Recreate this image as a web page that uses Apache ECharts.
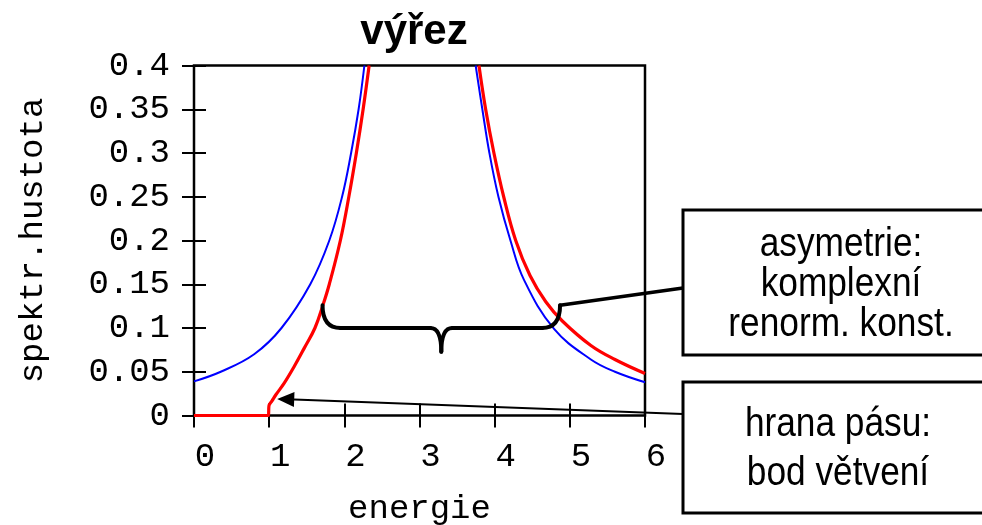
<!DOCTYPE html>
<html><head><meta charset="utf-8">
<script src="https://cdn.jsdelivr.net/npm/echarts@6/dist/echarts.min.js"></script>
<style>html,body{margin:0;padding:0;background:#fff}#c{width:982px;height:525px}</style>
</head><body><div id="c"></div>
<script>
// ---- data ----
const titleText = 'výřez';
const xName = 'energie';
const yName = 'spektr.hustota';
const xMin = 0, xMax = 6, xStep = 1;
const yMin = 0, yMax = 0.4, yStep = 0.05;

// blue curve (x, y); '-' marks the part above the visible window
const blueX = [0, 0.356, 0.8, 1.164, 1.547, 1.8, 1.97, 2.09, 2.19, 2.267, 3.0, 3.747, 3.836, 3.93, 4.05, 4.21, 4.39, 4.79, 5.28, 5.6, 6];
const blueY = [0.039, 0.05, 0.07, 0.1, 0.15, 0.2, 0.25, 0.3, 0.35, 0.4, '-', 0.4, 0.35, 0.3, 0.25, 0.2, 0.155, 0.099, 0.064, 0.05, 0.038];

// red curve
const redX = [0, 0.99, 0.997, 1.04, 1.089, 1.2, 1.333, 1.467, 1.609, 1.711, 1.8, 1.947, 2.06, 2.16, 2.25, 2.33, 3.0, 3.791, 3.88, 3.99, 4.12, 4.28, 4.47, 4.68, 4.9, 5.28, 5.6, 6];
const redY = [0, 0, 0.011, 0.017, 0.0237, 0.037, 0.056, 0.077, 0.1, 0.125, 0.15, 0.2, 0.25, 0.3, 0.35, 0.4, '-', 0.4, 0.35, 0.3, 0.25, 0.2, 0.16, 0.13, 0.108, 0.08, 0.064, 0.048];

// annotation anchors (data coordinates)
const braceLeft = [1.71, 0.126];
const braceRight = [4.87, 0.126];
const braceLevel = 0.1;
const braceMidX = 3.29;
const braceTipY = 0.073;
const arrowTip = [1.107, 0.019];

const box1Text = ['asymetrie:', 'komplexní', 'renorm. konst.'];
const box2Text = ['hrana pásu:', 'bod větvení'];

// ---- chart ----
const blueData = blueX.map((x, i) => [x, blueY[i]]);
const redData = redX.map((x, i) => [x, redY[i]]);

const mono = '"Liberation Mono", "DejaVu Sans Mono", monospace';
const sans = '"Liberation Sans", Arial, sans-serif';

const chart = echarts.init(document.getElementById('c'), null, {renderer: 'canvas'});

const tickStyle = {show: true, inside: true, length: 12, lineStyle: {color: '#000', width: 2}};

chart.setOption({
  animation: false,
  backgroundColor: '#fff',
  title: {
    text: titleText, left: 409, top: 6, textAlign: 'center',
    textStyle: {fontFamily: sans, fontWeight: 'bold', fontSize: 42, color: '#000'}
  },
  grid: {left: 194, top: 65.5, width: 451, height: 350, show: true, borderColor: '#000', borderWidth: 2.5,
         backgroundColor: 'transparent', containLabel: false, outerBoundsMode: 'none'},
  xAxis: [{
    type: 'value', min: xMin, max: xMax, interval: xStep,
    name: xName, nameLocation: 'middle', nameGap: 76,
    nameTextStyle: {fontFamily: mono, fontSize: 34, color: '#000'},
    axisLine: {show: false}, axisTick: tickStyle, splitLine: {show: false},
    axisLabel: {fontFamily: mono, fontSize: 34, color: '#000', margin: 24, padding: [0, 0, 0, 22]}
  }, {
    type: 'value', min: xMin, max: xMax, interval: xStep, position: 'top',
    axisLine: {show: false}, axisTick: tickStyle, splitLine: {show: false}, axisLabel: {show: false}
  }],
  yAxis: [{
    type: 'value', min: yMin, max: yMax, interval: yStep,
    name: yName, nameLocation: 'middle', nameGap: 144,
    nameTextStyle: {fontFamily: mono, fontSize: 34, color: '#000'},
    axisLine: {show: false}, axisTick: tickStyle, splitLine: {show: false},
    axisLabel: {fontFamily: mono, fontSize: 34, color: '#000', margin: 24, padding: [6, 0, 0, 0]}
  }, {
    type: 'value', min: yMin, max: yMax, interval: yStep, position: 'right',
    axisLine: {show: false}, axisTick: tickStyle, splitLine: {show: false}, axisLabel: {show: false}
  }],
  series: [{
    type: 'line', data: blueData, showSymbol: false, smooth: 0.4,
    connectNulls: false, lineStyle: {color: '#0000ff', width: 2}, z: 3
  }, {
    type: 'line', data: redData, showSymbol: false, smooth: 0.4,
    connectNulls: false, lineStyle: {color: '#ff0000', width: 3.2}, z: 4
  }]
});

function px(p) { return chart.convertToPixel({gridIndex: 0}, p); }

const bl = px(braceLeft), br = px(braceRight);
const lev = px([braceMidX, braceLevel])[1];
const mid = px([braceMidX, braceTipY]);
const xc = mid[0], yt = mid[1];
const rx = 18, rm = 11;

const braceStyle = {fill: null, stroke: '#000', lineWidth: 4, lineCap: 'round'};
function qcurve(x1, y1, cx, cy, x2, y2) {
  return {type: 'bezierCurve', z: 10, shape: {x1: x1, y1: y1, cpx1: cx, cpy1: cy, x2: x2, y2: y2}, style: braceStyle};
}
function seg(x1, y1, x2, y2, w) {
  return {type: 'line', z: 10, shape: {x1: x1, y1: y1, x2: x2, y2: y2}, style: {stroke: '#000', lineWidth: w, lineCap: 'round'}};
}

const box1 = {x: 683, y: 210, w: 330, h: 145};
const box2 = {x: 683, y: 382, w: 330, h: 131};

const tip = px(arrowTip);
const tail = [box2.x, 414];
const dx = tail[0] - tip[0], dy = tail[1] - tip[1];
const len = Math.sqrt(dx * dx + dy * dy);
const ux = dx / len, uy = dy / len;
const ah = 17, aw = 7.5;
const baseX = tip[0] + ux * ah, baseY = tip[1] + uy * ah;
const head = [
  [tip[0], tip[1]],
  [baseX - uy * aw, baseY + ux * aw],
  [baseX + uy * aw, baseY - ux * aw]
];

function boxText(lines, cx, cy, lh) {
  return {type: 'text', z: 12, x: cx, y: cy, scaleX: 0.86, scaleY: 1,
    style: {text: lines.join('\n'), x: 0, y: 0, fontFamily: sans, fontSize: 41, lineHeight: lh,
            fill: '#000', align: 'center', verticalAlign: 'middle'}};
}

chart.setOption({
  graphic: [
    qcurve(bl[0], bl[1], bl[0], lev, bl[0] + rx, lev),
    seg(bl[0] + rx, lev, xc - rm, lev, 4),
    qcurve(xc - rm, lev, xc, lev, xc, yt),
    qcurve(xc, yt, xc, lev, xc + rm, lev),
    seg(xc + rm, lev, br[0] - rx, lev, 4),
    qcurve(br[0] - rx, lev, br[0], lev, br[0], br[1]),
    seg(br[0], br[1], box1.x, 288, 3.5),
    seg(tail[0], tail[1], baseX, baseY, 2),
    {type: 'polygon', shape: {points: head}, style: {fill: '#000'}, z: 10},
    {type: 'rect', shape: {x: box1.x, y: box1.y, width: box1.w, height: box1.h}, style: {fill: '#fff', stroke: '#000', lineWidth: 3}, z: 11},
    {type: 'rect', shape: {x: box2.x, y: box2.y, width: box2.w, height: box2.h}, style: {fill: '#fff', stroke: '#000', lineWidth: 3}, z: 11},
    boxText(box1Text, 841, 285, 40),
    boxText(box2Text, 838, 449, 49)
  ]
});
</script></body></html>
